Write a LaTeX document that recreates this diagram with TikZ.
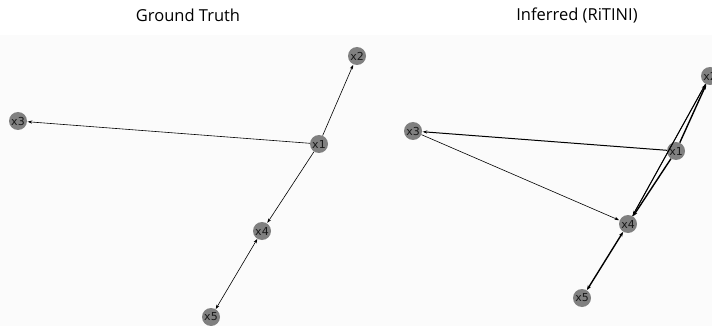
\documentclass[tikz,border=0pt]{standalone}
\usepackage{fontspec}
\setmainfont{Open Sans}
\newfontfamily\labfont{DejaVu Sans}
\usetikzlibrary{arrows.meta}
\definecolor{nodegray}{HTML}{808080}
\definecolor{plotbg}{HTML}{FBFBFB}
\tikzset{
  vtx/.style={circle,fill=nodegray,minimum size=18pt,inner sep=0pt,font=\labfont\fontsize{11}{11}\selectfont,text=black!90},
  edge/.style={draw=black,line width=0.6pt,-{Stealth[length=4.5pt,width=3.2pt]},shorten >=0.5pt},
  bidir/.style={draw=black,line width=0.6pt,{Stealth[length=4.5pt,width=3.2pt]}-{Stealth[length=4.5pt,width=3.2pt]}},
  thick edge/.style={draw=black,line width=1.4pt,-{Stealth[length=5pt,width=3.6pt]}},
  title/.style={font=\fontsize{16.5}{16.5}\selectfont,text=black}
}
\begin{document}
\begin{tikzpicture}[x=1pt,y=-1pt]
\useasboundingbox (0,0) rectangle (712,326);
\fill[white] (0,0) rectangle (712,326);
\fill[plotbg] (0,35) rectangle (712,326);
\node[title] (t1) at (188,15) {Ground Truth};
\node[title] (t2) at (577,15) {Inferred (RiTINI)};
% left panel
\node[vtx] (a1) at (319,144) {x1};
\node[vtx] (a2) at (357,56) {x2};
\node[vtx] (a3) at (18,121) {x3};
\node[vtx] (a4) at (262,231) {x4};
\node[vtx] (a5) at (211,317) {x5};
\draw[edge] (a1) -- (a2);
\draw[edge] (a1) -- (a3);
\draw[edge] (a1) -- (a4);
\draw[bidir] (a4) -- (a5);
% right panel
\node[vtx] (b1) at (676,151) {x1};
\node[vtx] (b2) at (710,76) {x2};
\node[vtx] (b3) at (413,131) {x3};
\node[vtx] (b4) at (628,224) {x4};
\node[vtx] (b5) at (582,298) {x5};
\draw[edge,line width=1pt] (b1) -- (b3);
\draw[edge] (b3) -- (b4);
\draw[thick edge] (b1) -- (b2);
\draw[edge] (b4) -- (b2);
\draw[thick edge] (b1) -- (b4);
\draw[edge,line width=1pt] (b2) -- (b4);
\draw[thick edge,{Stealth[length=5pt,width=3.6pt]}-{Stealth[length=5pt,width=3.6pt]}] (b4) -- (b5);
\end{tikzpicture}
\end{document}
